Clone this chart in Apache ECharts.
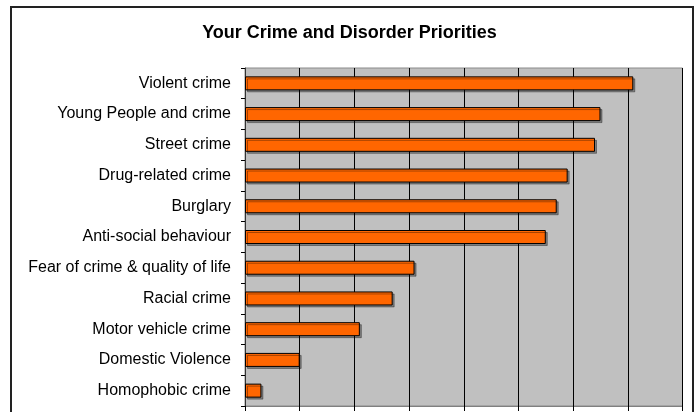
<!DOCTYPE html>
<html>
<head>
<meta charset="utf-8">
<script src="https://cdn.jsdelivr.net/npm/echarts@6/dist/echarts.min.js"></script>
<style>
html,body{margin:0;padding:0;background:#fff;}
#chart{width:699px;height:412px;}
</style>
</head>
<body>
<div id="chart"></div>
<script>
const categories = [
  "Violent crime",
  "Young People and crime",
  "Street crime",
  "Drug-related crime",
  "Burglary",
  "Anti-social behaviour",
  "Fear of crime & quality of life",
  "Racial crime",
  "Motor vehicle crime",
  "Domestic Violence",
  "Homophobic crime"
];
const values = [71, 65, 64, 59, 57, 55, 31, 27, 21, 10, 3];
const xTicks = { min: 0, max: 80, interval: 10 };

const chart = echarts.init(document.getElementById('chart'), null, { renderer: 'canvas' });
chart.setOption({
  animation: false,
  backgroundColor: '#ffffff',
  title: {
    text: 'Your Crime and Disorder Priorities',
    left: 'center',
    top: 19,
    textStyle: { fontFamily: 'Liberation Sans, Arial, sans-serif', fontSize: 18, fontWeight: 'bold', color: '#000' }
  },
  graphic: [{
    type: 'rect',
    shape: { x: 11, y: 7, width: 682, height: 430 },
    style: { fill: 'none', stroke: '#222', lineWidth: 2 },
    silent: true
  }],
  grid: {
    left: 245, right: 16.5, top: 68, bottom: 6,
    show: true, backgroundColor: '#C0C0C0', borderColor: '#8a8a8a', borderWidth: 1
  },
  xAxis: {
    type: 'value',
    min: xTicks.min, max: xTicks.max, interval: xTicks.interval,
    axisLine: { show: true, lineStyle: { color: '#808080', width: 1 } },
    axisTick: { show: true, length: 5, lineStyle: { color: '#000' } },
    axisLabel: { show: false },
    splitLine: { show: true, lineStyle: { color: '#000', width: 1 } }
  },
  yAxis: {
    type: 'category',
    data: categories,
    inverse: true,
    axisLine: { show: true, lineStyle: { color: '#333', width: 1 } },
    axisTick: { show: true, length: 4, lineStyle: { color: '#000' } },
    axisLabel: { margin: 14, color: '#000', fontSize: 16, fontFamily: 'Liberation Sans, Arial, sans-serif', padding: [3, 0, 0, 0] },
    splitLine: { show: false }
  },
  series: [{
    type: 'bar',
    data: values,
    barWidth: 14,
    itemStyle: {
      color: '#FF6600',
      borderColor: '#000',
      borderWidth: 1,
      shadowColor: 'rgba(0,0,0,0.35)',
      shadowOffsetX: 2,
      shadowOffsetY: 2,
      shadowBlur: 0
    }
  }]
});
</script>
</body>
</html>
